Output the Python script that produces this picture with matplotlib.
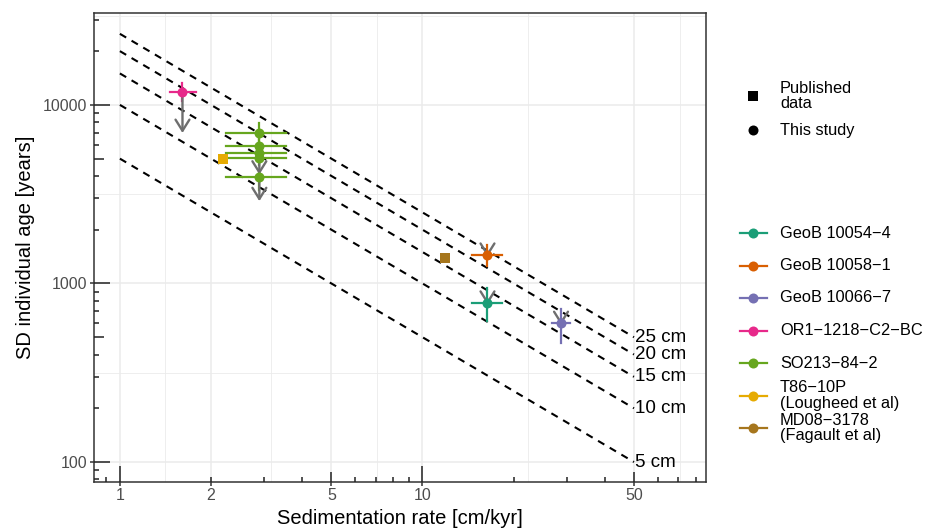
"""SD of individual foraminifera ages vs sedimentation rate."""

import numpy as np
import matplotlib.pyplot as plt
from matplotlib.lines import Line2D
from matplotlib.ticker import NullFormatter
from matplotlib.transforms import blended_transform_factory

plt.rcParams['font.family'] = ['Liberation Sans', 'DejaVu Sans']

# legend entries (Dark2 palette)
cores = ["GeoB 10054\u22124", "GeoB 10058\u22121", "GeoB 10066\u22127",
         "OR1\u22121218\u2212C2\u2212BC", "SO213\u221284\u22122",
         "T86\u221210P\n(Lougheed et al)", "MD08\u22123178\n(Fagault et al)"]
core_colors = ["#1B9E77", "#D95F02", "#7570B3", "#E7298A",
               "#66A61E", "#E6AB02", "#A6761D"]

# this study (circles): core index, rate [cm/kyr], SD age [years]
study_core = [0, 1, 2, 3, 4, 4, 4, 4, 4]
study_rate = [16.4, 16.4, 28.7, 1.61, 2.89, 2.89, 2.89, 2.89, 2.89]
study_rate_lo = [14.6, 14.6, 26.7, 1.46, 2.25, 2.25, 2.25, 2.25, 2.25]
study_rate_hi = [18.3, 18.3, 30.7, 1.78, 3.55, 3.55, 3.55, 3.55, 3.55]
study_sd = [780, 1450, 600, 11800, 7000, 5900, 5350, 5050, 3950]
study_sd_lo = [617, 1250, 467, 10500, 6300, 5400, 4900, 4600, 3350]
study_sd_hi = [946, 1650, 723, 13200, 7940, 6500, 5800, 5600, 4300]

# published data (squares)
pub_core = [5, 6]
pub_rate = [2.19, 11.9]
pub_sd = [4980, 1390]

# upper-limit arrows: rate, from, to
arrow_rate = [1.61, 2.89, 2.89, 16.4, 16.4, 28.7]
arrow_from = [11800, 5050, 3950, 780, 1450, 600]
arrow_to = [6960, 4070, 2890, 760, 1410, 585]

# bioturbation depth lines
mixed_depth = [5, 10, 15, 20, 25]
line_rate = [1, 50]

x_breaks = [1, 2, 5, 10, 50]
x_minor = [1.414, 3.162, 7.071, 22.36, 70.71]
y_breaks = [100, 1000, 10000]
y_minor = [316.2, 3162, 31623]

W, H = 927, 531
fig = plt.figure(figsize=(W / 100, H / 100), dpi=100)
L, R, T, B = 93.5, 706, 13, 482
ax = fig.add_axes([L / W, 1 - B / H, (R - L) / W, (B - T) / H])
ax.set_xscale("log")
ax.set_yscale("log")
ax.set_xlim(0.818, 86.5)
ax.set_ylim(77.3, 32700)

ax.set_xticks(x_breaks)
ax.set_xticklabels([str(v) for v in x_breaks])
ax.set_xticks(x_minor, minor=True)
ax.set_yticks(y_breaks)
ax.set_yticklabels([str(v) for v in y_breaks])
ax.set_yticks(y_minor, minor=True)
ax.xaxis.set_minor_formatter(NullFormatter())
ax.yaxis.set_minor_formatter(NullFormatter())
ax.tick_params(which="major", direction="out", length=3, width=1.1,
               color="#333333", labelcolor="#4D4D4D", labelsize=11.5, pad=1.5)
ax.tick_params(which="minor", length=0)
ax.grid(which="major", color="#EBEBEB", lw=1.1)
ax.grid(which="minor", color="#EBEBEB", lw=0.6)
ax.set_axisbelow(True)
for s in ax.spines.values():
    s.set_color("#333333")
    s.set_linewidth(1.1)

# log ticks inside the panel
ax_w, ax_h = R - L, B - T
tx = blended_transform_factory(ax.transData, ax.transAxes)
ty = blended_transform_factory(ax.transAxes, ax.transData)
for d in range(-1, 5):
    for k in range(1, 10):
        v = k * 10.0 ** d
        px = 16 if k == 1 else (10.5 if k == 5 else 5.5)
        if 0.818 <= v <= 86.5:
            ax.plot([v, v], [0, px / ax_h], transform=tx, color="#222222",
                    lw=1.1, solid_capstyle="butt", zorder=6)
        if 77.3 <= v <= 32700:
            ax.plot([0, px / ax_w], [v, v], transform=ty, color="#222222",
                    lw=1.1, solid_capstyle="butt", zorder=6)

# dashed constant-depth lines
xr = np.array(line_rate, dtype=float)
for cm in mixed_depth:
    ax.plot(xr, cm / xr * 1000, color="black", lw=1.5,
            linestyle=(0, (3.5, 3)), zorder=2)
    ax.text(xr[-1] * 1.01, cm / xr[-1] * 1000, f"{cm} cm", ha="left",
            va="center", fontsize=13.5, color="black")

# error bars
for i in range(len(study_rate)):
    c = core_colors[study_core[i]]
    ax.plot([study_rate_lo[i], study_rate_hi[i]], [study_sd[i]] * 2,
            color=c, lw=1.6, zorder=3)
    ax.plot([study_rate[i]] * 2, [study_sd_lo[i], study_sd_hi[i]],
            color=c, lw=1.6, zorder=3)

# arrows
for x, y0, y1 in zip(arrow_rate, arrow_from, arrow_to):
    ax.annotate("", xy=(x, y1), xytext=(x, y0),
                arrowprops=dict(arrowstyle="->,head_length=0.4,head_width=0.25",
                                mutation_scale=20, color="#6E6E6E", lw=1.7,
                                shrinkA=0, shrinkB=0),
                zorder=4)

# points
for i in range(len(study_rate)):
    ax.plot(study_rate[i], study_sd[i], "o", color=core_colors[study_core[i]],
            ms=7.2, mew=0, zorder=5)
for i in range(len(pub_rate)):
    ax.plot(pub_rate[i], pub_sd[i], "s", color=core_colors[pub_core[i]],
            ms=6.5, mew=0, zorder=5)

ax.set_xlabel("Sedimentation rate [cm/kyr]", fontsize=14.5, labelpad=4)
ax.set_ylabel("SD individual age [years]", fontsize=14.5, labelpad=6)

# legends drawn by hand (ggplot-style)
def fx(px):
    return px / W


def fy(py):
    return 1 - py / H


shape_labels = ["Published\ndata", "This study"]
shape_markers = ["s", "o"]
shape_y = [96, 130]
for lab, m, y in zip(shape_labels, shape_markers, shape_y):
    fig.add_artist(Line2D([fx(753)], [fy(y)], marker=m, color="black",
                          ms=6.5 if m == "s" else 7.2, mew=0,
                          transform=fig.transFigure))
    fig.text(fx(780), fy(y), lab, ha="left", va="center", fontsize=11.8,
             linespacing=1.05)

for i, (lab, c) in enumerate(zip(cores, core_colors)):
    y = 233 + i * 32.5
    fig.add_artist(Line2D([fx(740), fx(767)], [fy(y), fy(y)], color=c, lw=1.6,
                          transform=fig.transFigure))
    fig.add_artist(Line2D([fx(753)], [fy(y)], marker="o", color=c, ms=7.2,
                          mew=0, transform=fig.transFigure))
    fig.text(fx(780), fy(y), lab, ha="left", va="center", fontsize=11.8,
             linespacing=1.05)

fig.savefig("out.png", dpi=100)
